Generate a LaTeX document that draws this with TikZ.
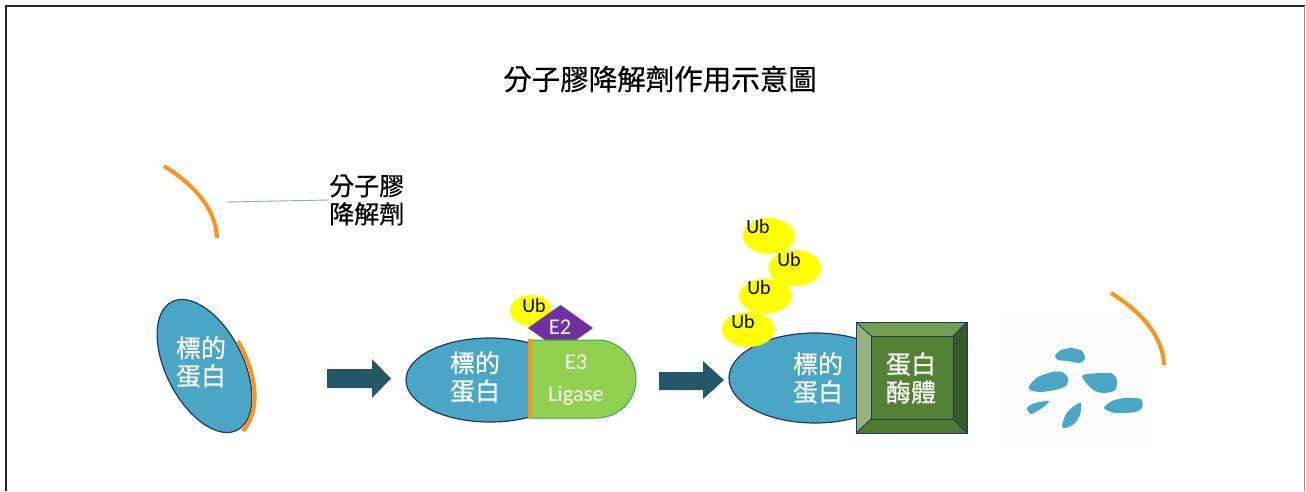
\documentclass[tikz,border=0pt]{standalone}
\usepackage{fontspec}
\newfontfamily\cjk[FakeBold=0.6]{Noto Sans CJK TC}
\newfontfamily\lat{Carlito}
\usetikzlibrary{shapes.geometric}
\definecolor{protblue}{HTML}{4BA5C5}
\definecolor{navy}{HTML}{1F3864}
\definecolor{glue}{HTML}{F7961C}
\definecolor{arrowc}{HTML}{245868}
\definecolor{e3fill}{HTML}{92D050}
\definecolor{e3edge}{HTML}{2DB04A}
\definecolor{e2c}{HTML}{7030A0}
\definecolor{ubc}{HTML}{FFFF00}
\definecolor{pcenter}{HTML}{548235}
\definecolor{ptop}{HTML}{759E55}
\definecolor{pleft}{HTML}{98B27E}
\definecolor{pright}{HTML}{3A5A25}
\definecolor{pbottom}{HTML}{4F7A30}
\definecolor{leader}{HTML}{8FA5D8}
\tikzset{
  x=1pt, y=-1pt,
  protein/.style={fill=protblue, draw=navy, line width=1.2pt},
  gluearc/.style={draw=glue, line width=4pt},
  protlabel/.style={text=white, font=\cjk\fontsize{25}{28}\selectfont, align=center, inner sep=0pt},
  blockarrow/.style={fill=arrowc},
  ubball/.style={fill=ubc},
  ublabel/.style={font=\lat\fontsize{20}{22}\selectfont, inner sep=0pt},
  latlabel/.style={text=white, font=\lat\fontsize{22.5}{32}\selectfont, align=center, inner sep=0pt},
  fragment/.style={fill=protblue},
}
\begin{document}
\begin{tikzpicture}
\useasboundingbox (0,0) rectangle (1306,491);
% frame
\draw[line width=2pt, black!85] (6,491) -- (6,6) -- (1305,6);
\draw[line width=1.5pt, black!45] (1304.5,6) -- (1304.5,491);

% title
\node[font=\cjk\fontsize{28.5}{30}\selectfont, inner sep=0pt] (title) at (660,79) {分子膠降解劑作用示意圖};

% free molecular glue with its label
\path[gluearc] (164,166) .. controls (196,186) and (216,210) .. (217,238);
\coordinate (gluetip) at (226,202);
\node[font=\cjk\fontsize{25}{28}\selectfont, align=left, inner sep=0pt, anchor=west] (gluelabel) at (329,200) {分子膠\\降解劑};
\draw[leader, line width=0.9pt] (gluetip) -- (gluelabel.west);

% step 1: target protein with glue bound
\path[protein, shift={(204.5,366)}, rotate=-63] (0,0) ellipse [x radius=72pt, y radius=38.5pt];
\node[protlabel] (t1) at (201,362) {標的\\蛋白};
\path[gluearc] (238,341) .. controls (256,372) and (262,410) .. (243,431);

% arrow 1
\path[blockarrow] (327,369) -- (372,369) -- (372,359) -- (391,378.5) -- (372,398) -- (372,388) -- (327,388) -- cycle;

% step 2: target protein, E3 ligase, E2 and Ub
\begin{scope}
  \clip (395,325) rectangle (530,430);
  \path[protein] (490,380) ellipse [x radius=84pt, y radius=42pt];
\end{scope}
\node[protlabel] (t2) at (475,377) {標的\\蛋白};
\path[ubball] (531,310.5) ellipse [x radius=21pt, y radius=15.5pt];
\path[fill=e2c] (528,328) -- (560.5,305) -- (593,328) -- (560.5,351) -- cycle;
\path[fill=e3fill, draw=e3edge, line width=1pt] (530,340) -- (597,340) arc[start angle=90, end angle=-90, radius=39pt] -- (530,418) -- cycle;
\draw[glue, line width=4.5pt] (530,339) -- (530,419);
\node[latlabel] (e3) at (576,380) {E3\\Ligase};
\node[latlabel] (e2) at (560,327) {E2};
\node[ublabel] (ub0) at (534,306) {Ub};

% arrow 2
\path[blockarrow] (659,372) -- (703,372) -- (703,361) -- (724,380) -- (703,399) -- (703,390) -- (659,390) -- cycle;

% step 3: ubiquitinated target protein entering the proteasome
\path[protein] (815,378) ellipse [x radius=86pt, y radius=45pt];
\node[protlabel] (t3) at (818,378) {標的\\蛋白};
\path[ubball] (769,236) ellipse [x radius=26pt, y radius=18pt];
\path[ubball] (795,268) ellipse [x radius=26.5pt, y radius=18pt];
\path[ubball] (765.5,296) ellipse [x radius=26.5pt, y radius=17.5pt];
\path[ubball] (748.5,329.5) ellipse [x radius=26.5pt, y radius=17.5pt];
\node[ublabel] (ub1) at (758,227) {Ub};
\node[ublabel] (ub2) at (789,260) {Ub};
\node[ublabel] (ub3) at (759,288) {Ub};
\node[ublabel] (ub4) at (743,322) {Ub};

% proteasome drawn as a bevelled block
\path[fill=ptop] (856,322) -- (967,322) -- (953,336) -- (871,336) -- cycle;
\path[fill=pleft] (856,322) -- (871,336) -- (871,419) -- (856,433) -- cycle;
\path[fill=pright] (967,322) -- (967,433) -- (953,419) -- (953,336) -- cycle;
\path[fill=pbottom] (856,433) -- (871,419) -- (953,419) -- (967,433) -- cycle;
\path[fill=pcenter] (871,336) rectangle (953,419);
\draw[navy, line width=1pt] (856,322) rectangle (967,433);
\draw[navy, line width=1pt] (871,336) rectangle (953,419);
\draw[navy, line width=0.8pt] (856,322) -- (871,336) (967,322) -- (953,336) (856,433) -- (871,419) (967,433) -- (953,419);
\node[protlabel] (pro) at (911,378) {蛋白\\酶體};

% step 4: degraded fragments and released glue
\path[fill=black!1] (1002,313) rectangle (1150,447);
\path[fragment] plot[smooth cycle, tension=0.45] coordinates {(1055,356) (1061,350) (1072,348) (1082,351) (1085,358) (1080,363) (1068,361) (1058,360)};
\path[fragment] plot[smooth cycle, tension=0.45] coordinates {(1029,386) (1038,377) (1052,372) (1062,372) (1068,378) (1066,386) (1055,390) (1040,392) (1030,390)};
\path[fragment] plot[smooth cycle, tension=0.45] coordinates {(1083,375) (1110,373) (1117,380) (1115,390) (1105,393) (1095,391) (1087,384)};
\path[fragment] plot[smooth cycle, tension=0.45] coordinates {(1027,408) (1035,403) (1049,401) (1042,408) (1031,414)};
\path[fragment] plot[smooth cycle, tension=0.45] coordinates {(1062,426) (1066,414) (1074,406) (1081,403) (1080,415) (1074,424) (1065,428)};
\path[fragment] plot[smooth cycle, tension=0.45] coordinates {(1104,408) (1112,401) (1125,398) (1141,399) (1142,408) (1135,412) (1115,413)};
\path[gluearc] (1111,293) .. controls (1143,313) and (1163,337) .. (1164,365);
\end{tikzpicture}
\end{document}
